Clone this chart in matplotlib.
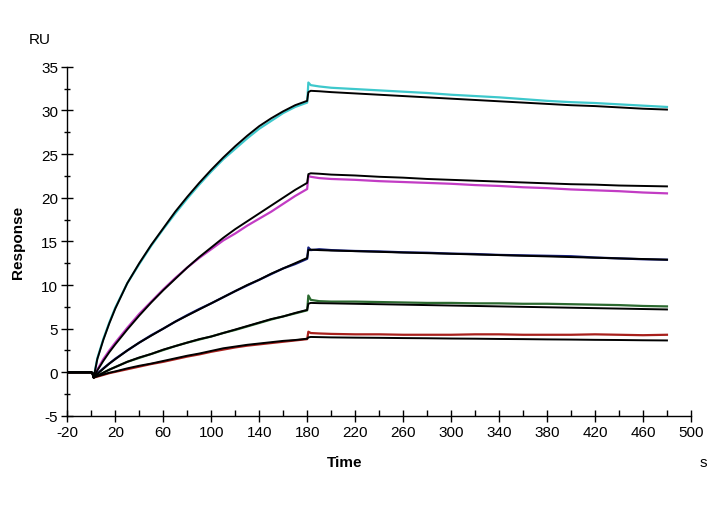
import matplotlib
matplotlib.use("Agg")
import matplotlib.pyplot as plt
import numpy as np
from matplotlib.ticker import MultipleLocator, FixedLocator

plt.rcParams['font.family'] = ['Liberation Sans', 'DejaVu Sans']
plt.rcParams['axes.unicode_minus'] = False

# ---- data ----
t_base = [-20, -10, 0, 1, 2]
t_assoc = [5, 10, 15, 20, 30, 40, 50, 60, 70, 80, 90, 100, 110, 120, 130, 140, 150, 160, 170, 180]
t_dissoc = [181, 183, 190, 200, 220, 240, 260, 280, 300, 320, 340, 360, 380, 400, 420, 440, 460, 480]
time = t_base + t_assoc + t_dissoc

base_vals = [0, 0, 0, -0.1, -0.6]

cyan_fit = base_vals + [1.5, 3.7, 5.6, 7.3, 10.2, 12.5, 14.6, 16.5, 18.4, 20.1, 21.7, 23.2, 24.6, 25.9, 27.1, 28.2, 29.1, 29.9, 30.6, 31.1] + \
    [32.1, 32.25, 32.2, 32.1, 31.95, 31.8, 31.65, 31.5, 31.35, 31.2, 31.05, 30.9, 30.75, 30.6, 30.5, 30.35, 30.2, 30.1]
cyan_data = base_vals + [1.6, 3.8, 5.7, 7.4, 10.2, 12.4, 14.5, 16.4, 18.2, 19.9, 21.5, 23.0, 24.4, 25.6, 26.8, 27.9, 28.8, 29.7, 30.4, 30.9] + \
    [33.2, 32.9, 32.75, 32.6, 32.45, 32.3, 32.15, 32.0, 31.8, 31.65, 31.5, 31.3, 31.1, 30.95, 30.85, 30.7, 30.55, 30.4]

magenta_fit = base_vals + [0.2, 1.3, 2.3, 3.2, 4.9, 6.5, 8.0, 9.4, 10.7, 12.0, 13.2, 14.3, 15.4, 16.4, 17.3, 18.2, 19.1, 20.0, 20.9, 21.7] + \
    [22.7, 22.8, 22.75, 22.65, 22.55, 22.4, 22.3, 22.15, 22.05, 21.95, 21.85, 21.75, 21.65, 21.55, 21.5, 21.4, 21.35, 21.3]
magenta_data = base_vals + [0.3, 1.5, 2.5, 3.4, 5.1, 6.7, 8.1, 9.5, 10.8, 12.0, 13.1, 14.1, 15.1, 15.9, 16.8, 17.6, 18.4, 19.3, 20.2, 21.0] + \
    [22.5, 22.4, 22.25, 22.15, 22.05, 21.9, 21.8, 21.7, 21.6, 21.45, 21.35, 21.2, 21.1, 20.95, 20.85, 20.75, 20.6, 20.5]

blue_fit = base_vals + [-0.2, 0.4, 1.0, 1.5, 2.5, 3.4, 4.2, 5.0, 5.8, 6.5, 7.2, 7.9, 8.6, 9.3, 10.0, 10.6, 11.3, 11.9, 12.5, 13.1] + \
    [14.0, 14.05, 14.0, 13.95, 13.88, 13.8, 13.72, 13.65, 13.58, 13.5, 13.43, 13.35, 13.28, 13.2, 13.13, 13.05, 12.98, 12.9]
blue_data = base_vals + [-0.15, 0.45, 1.0, 1.55, 2.5, 3.4, 4.25, 5.0, 5.8, 6.55, 7.25, 7.9, 8.6, 9.3, 9.95, 10.6, 11.25, 11.9, 12.4, 13.0] + \
    [14.3, 14.0, 14.1, 14.0, 13.9, 13.85, 13.75, 13.7, 13.6, 13.55, 13.45, 13.4, 13.35, 13.3, 13.15, 13.05, 12.95, 12.9]

green_fit = base_vals + [-0.4, -0.05, 0.3, 0.6, 1.2, 1.7, 2.1, 2.6, 3.0, 3.4, 3.8, 4.1, 4.5, 4.9, 5.3, 5.7, 6.1, 6.4, 6.8, 7.15] + \
    [7.85, 7.95, 7.92, 7.9, 7.85, 7.8, 7.75, 7.7, 7.65, 7.6, 7.55, 7.5, 7.45, 7.4, 7.35, 7.3, 7.25, 7.2]
green_data = base_vals + [-0.4, -0.05, 0.3, 0.6, 1.2, 1.65, 2.1, 2.55, 3.0, 3.4, 3.75, 4.1, 4.5, 4.85, 5.25, 5.65, 6.05, 6.4, 6.75, 7.1] + \
    [8.8, 8.3, 8.15, 8.1, 8.1, 8.05, 8.0, 7.95, 7.95, 7.9, 7.9, 7.85, 7.85, 7.8, 7.75, 7.7, 7.6, 7.55]

red_fit = base_vals + [-0.45, -0.25, -0.05, 0.1, 0.45, 0.75, 1.0, 1.3, 1.6, 1.9, 2.15, 2.45, 2.75, 2.95, 3.15, 3.3, 3.45, 3.6, 3.7, 3.85] + \
    [4.0, 4.05, 4.03, 4.0, 3.97, 3.95, 3.92, 3.9, 3.87, 3.85, 3.82, 3.8, 3.77, 3.75, 3.72, 3.7, 3.67, 3.65]
red_data = base_vals + [-0.5, -0.3, -0.1, 0.05, 0.35, 0.65, 0.95, 1.2, 1.5, 1.8, 2.05, 2.35, 2.6, 2.85, 3.05, 3.2, 3.35, 3.5, 3.65, 3.8] + \
    [4.65, 4.5, 4.45, 4.4, 4.35, 4.35, 4.3, 4.3, 4.3, 4.35, 4.35, 4.3, 4.3, 4.3, 4.35, 4.3, 4.25, 4.3]

series_data = [cyan_data, magenta_data, blue_data, green_data, red_data]
series_fit = [cyan_fit, magenta_fit, blue_fit, green_fit, red_fit]
colors = ['#3ec8cc', '#c23cc4', '#16207e', '#2c6a30', '#a8201c']

x_major = [-20, 20, 60, 100, 140, 180, 220, 260, 300, 340, 380, 420, 460, 500]
y_major = [-5, 0, 5, 10, 15, 20, 25, 30, 35]

# ---- figure ----
fig = plt.figure(figsize=(7.16, 5.06), dpi=100)
ax = fig.add_axes([0.094, 0.176, 0.871, 0.690])

for d, c in zip(series_data, colors):
    ax.plot(time, d, color=c, lw=1.6, solid_joinstyle='round')
for f in series_fit:
    ax.plot(time, f, color='black', lw=1.4, solid_joinstyle='round')

ax.set_xlim(-20, 500)
ax.set_ylim(-5, 35)
ax.spines['top'].set_visible(False)
ax.spines['right'].set_visible(False)
ax.spines['left'].set_linewidth(1.0)
ax.spines['bottom'].set_linewidth(1.0)

ax.xaxis.set_major_locator(FixedLocator(x_major))
ax.xaxis.set_minor_locator(FixedLocator([v + 20 for v in x_major[:-1]]))
ax.yaxis.set_major_locator(FixedLocator(y_major))
ax.yaxis.set_minor_locator(MultipleLocator(2.5))

ax.tick_params(axis='x', which='major', direction='inout', length=9, width=1, labelsize=11, pad=2)
ax.tick_params(axis='x', which='minor', direction='in', length=4, width=1)
ax.tick_params(axis='y', which='major', direction='inout', length=9, width=1, labelsize=11, pad=2)
ax.tick_params(axis='y', which='minor', direction='inout', length=5, width=1)

ax.set_ylabel('Response', fontsize=11, fontweight='bold', labelpad=12)

fig.text(345 / 716, 1 - 463 / 506, 'Time', fontsize=11, fontweight='bold', ha='center', va='center')
fig.text(703 / 716, 1 - 463 / 506, 's', fontsize=11, ha='center', va='center')
fig.text(40 / 716, 1 - 40 / 506, 'RU', fontsize=11, ha='center', va='center')

fig.savefig('out.png', dpi=100)
